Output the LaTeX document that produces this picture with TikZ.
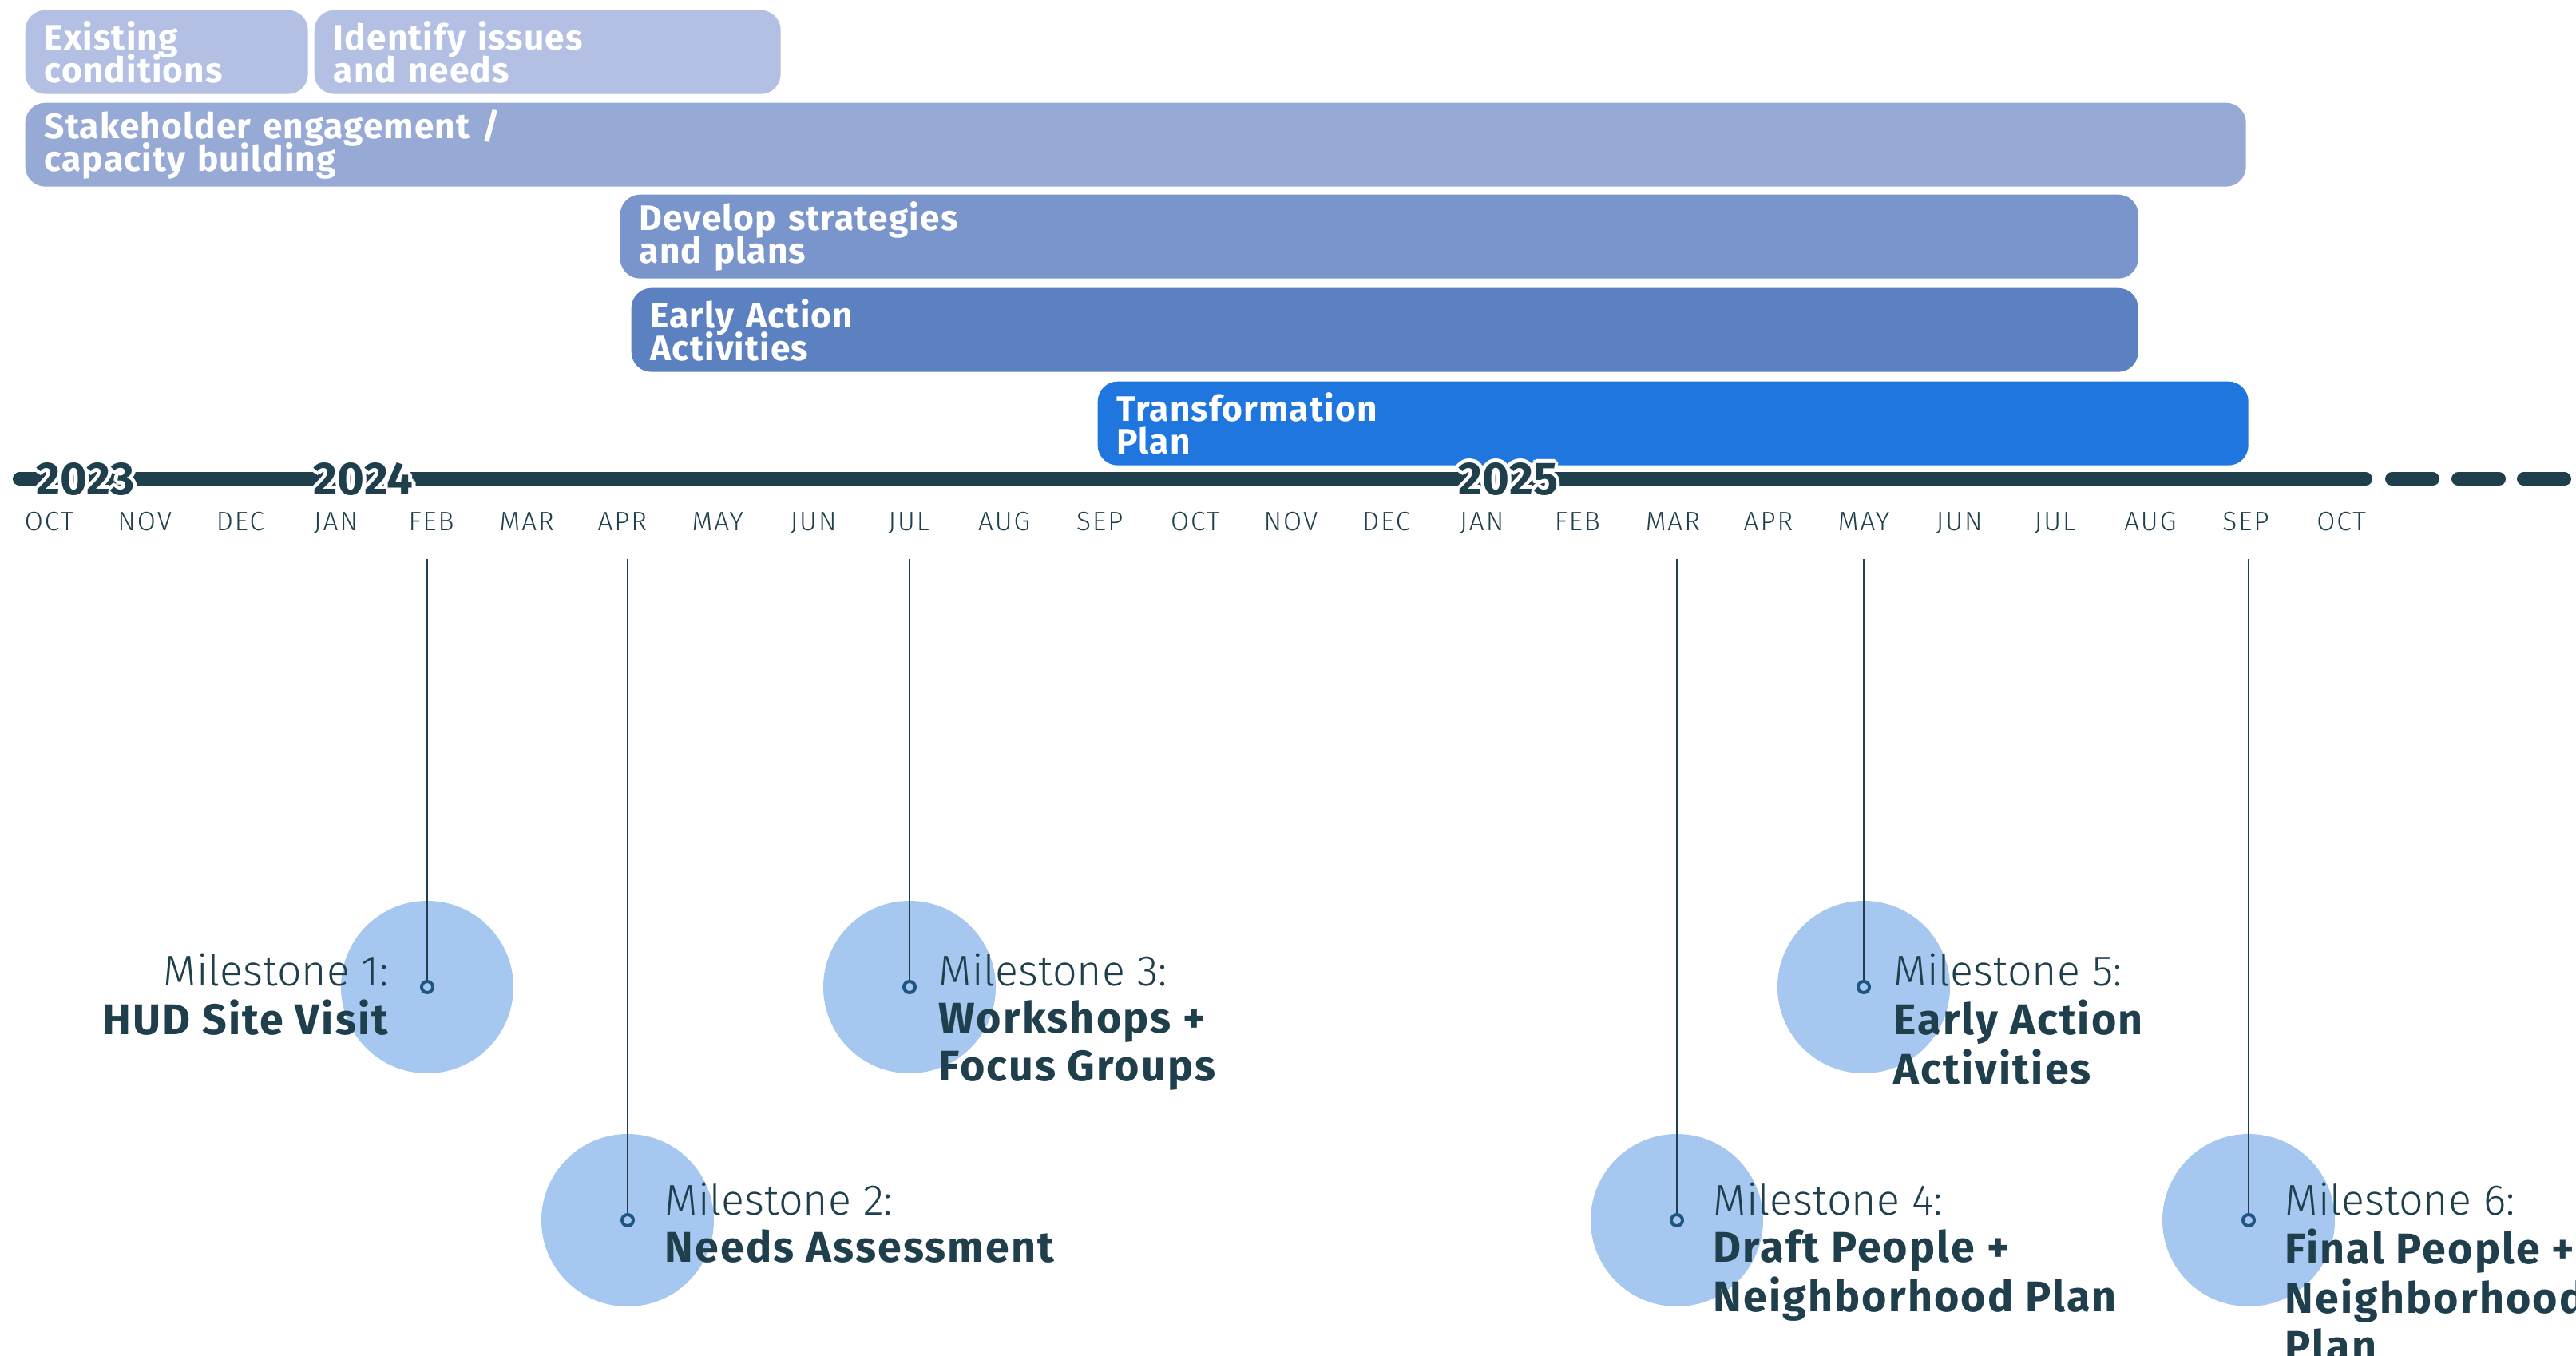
\documentclass[tikz,border=0pt]{standalone}
\usepackage{fontspec}
\usepackage{array}
\setmainfont{Fira Sans}
\newfontfamily\lightfont{Fira Sans Light}
\usetikzlibrary{positioning,calc}

\definecolor{barA}{HTML}{B3C0E3}
\definecolor{barB}{HTML}{97AAD6}
\definecolor{barC}{HTML}{7A95CB}
\definecolor{barD}{HTML}{5C81C0}
\definecolor{barE}{HTML}{1E76DE}
\definecolor{navy}{HTML}{1E3F4B}
\definecolor{dotblue}{HTML}{1F5585}
\definecolor{bubblefill}{HTML}{A6C8F0}

\newcommand\haloed[1]{%
  \leavevmode\rlap{\color{white}\foreach \a in {0,30,...,330}{%
    \pgfmathsetlengthmacro\hx{1.3pt*cos(\a)}%
    \pgfmathsetlengthmacro\hy{1.3pt*sin(\a)}%
    \rlap{\hspace*{\hx}\raisebox{\hy}{#1}}}}%
  #1}
\newcommand\tightlines{\setlength\lineskiplimit{-20pt}}
\newcommand\barfont{\fontsize{12.6pt}{11.6pt}\selectfont\tightlines\bfseries\addfontfeatures{LetterSpace=2.5}}
\newcommand\mstext[3]{\begin{tabular}[t]{@{}>{\bfseries\addfontfeatures{LetterSpace=4}}#1@{}}{\lightfont\mdseries Milestone #2:}\\#3\end{tabular}}

\begin{document}
\begin{tikzpicture}[
    bar/.style={rounded corners=2.5mm, inner xsep=2.4mm, inner ysep=0pt, minimum height=10.5mm,
      anchor=north west, align=left, text=white, font=\barfont},
    year/.style={inner sep=0pt, text=navy, font=\fontsize{16.5pt}{18pt}\selectfont\bfseries},
    month/.style={inner sep=0pt, anchor=base, text=navy,
      font=\lightfont\fontsize{9.5pt}{11pt}\selectfont\addfontfeatures{LetterSpace=6}},
    bubble/.style={circle, fill=bubblefill, minimum size=2.16cm, inner sep=0pt},
    dot/.style={circle, draw=dotblue, fill=bubblefill, line width=0.4mm, minimum size=1.4mm, inner sep=0pt},
    stem/.style={navy, line width=0.2mm},
    mstone/.style={inner sep=0pt, text=navy, font=\fontsize{15.3pt}{17.07pt}\selectfont},
    axis/.style={navy, line width=1.7mm, line cap=round}
  ]
    \useasboundingbox (0,0) rectangle (32.26,-16.98);

    \node[bar, fill=barA, text width=30.6mm] (exist) at (0.31,-0.12) {Existing\\conditions};
    \node[bar, fill=barA, text width=53.6mm] (ident) at (3.93,-0.12) {Identify issues\\and needs};
    \node[bar, fill=barB, text width=273.3mm] (stake) at (0.31,-1.28) {Stakeholder engagement /\\capacity building};
    \node[bar, fill=barC, text width=185.3mm] (devel) at (7.76,-2.43) {Develop strategies\\and plans};
    \node[bar, fill=barD, text width=183.9mm] (early) at (7.90,-3.60) {Early Action\\Activities};
    \node[bar, fill=barE, text width=139.3mm] (trans) at (13.74,-4.77) {Transformation\\Plan};

    \draw[axis] (0.245,-6) -- (29.625,-6);
    \foreach \d in {30.21,31.04,31.86}
      \draw[axis] (\d-0.255,-6) -- (\d+0.255,-6);
    \node[year] (y23) at (1.07,-6) {\haloed{2023}};
    \node[year] (y24) at (4.55,-6) {\haloed{2024}};
    \node[year] (y25) at (18.89,-6) {\haloed{2025}};

    \foreach \m [count=\i from 0] in {OCT,NOV,DEC,JAN,FEB,MAR,APR,MAY,JUN,JUL,AUG,SEP,
        OCT,NOV,DEC,JAN,FEB,MAR,APR,MAY,JUN,JUL,AUG,SEP,OCT}
      \node[month] (mo\i) at (0.617+1.196*\i,-6.65) {\m};

    \foreach \n/\x/\y in {1/5.35/12.36, 2/7.86/15.28, 3/11.39/12.36, 4/21.00/15.28, 5/23.34/12.36, 6/28.16/15.28} {
      \node[bubble] (b\n) at (\x,-\y) {};
      \coordinate (t\n) at (\x,-7.00);
      \node[dot] (d\n) at (\x,-\y) {};
      \draw[stem] (t\n) -- (d\n);
    }

    \node[mstone, anchor=base east] (l1) at (4.87,-12.34) {\mstext{r}{1}{HUD Site Visit}};
    \node[mstone, anchor=base west] (l2) at (8.32,-15.21) {\mstext{l}{2}{Needs Assessment}};
    \node[mstone, anchor=base west] (l3) at (11.75,-12.34) {\mstext{l}{3}{Workshops +\\Focus Groups}};
    \node[mstone, anchor=base west] (l4) at (21.45,-15.21) {\mstext{l}{4}{Draft People +\\Neighborhood Plan}};
    \node[mstone, anchor=base west] (l5) at (23.71,-12.34) {\mstext{l}{5}{Early Action\\Activities}};
    \node[mstone, anchor=base west] (l6) at (28.61,-15.21) {\mstext{l}{6}{Final People +\\Neighborhood\\Plan}};
  \end{tikzpicture}
\end{document}
